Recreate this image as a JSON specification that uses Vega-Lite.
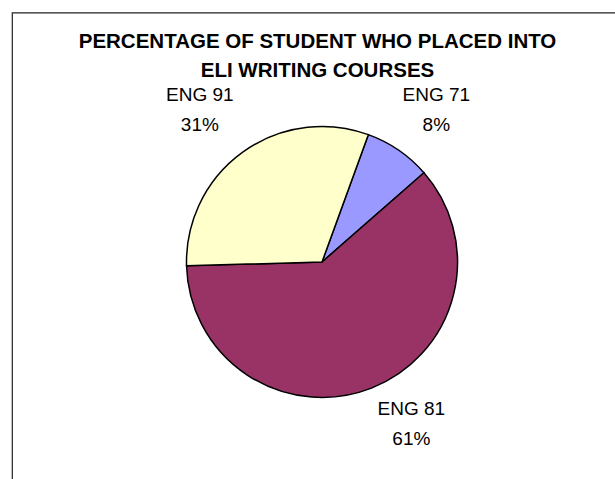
{
  "$schema": "https://vega.github.io/schema/vega-lite/v6.json",
  "width": 620,
  "height": 499,
  "autosize": {"type": "none"},
  "padding": {"left": 12, "top": 12.5, "right": 0, "bottom": 0},
  "background": "white",
  "view": {"stroke": "#222222", "strokeWidth": 1.2, "fill": "white"},
  "config": {
    "text": {"font": "Liberation Sans"}
  },
  "title": {
    "text": ["PERCENTAGE OF STUDENT WHO PLACED INTO", "ELI WRITING COURSES"],
    "font": "Liberation Sans",
    "fontSize": 20.5,
    "fontWeight": "bold",
    "color": "#000000",
    "lineHeight": 29,
    "anchor": "middle",
    "frame": "group",
    "baseline": "alphabetic",
    "offset": -85,
    "dx": -4.5
  },
  "data": {
    "values": [
      {"course": "ENG 71", "share": 0.08},
      {"course": "ENG 81", "share": 0.61},
      {"course": "ENG 91", "share": 0.31}
    ]
  },
  "layer": [
    {
      "mark": {"type": "arc", "outerRadius": 135.5, "stroke": "#000000", "strokeWidth": 1.5},
      "encoding": {
        "theta": {"field": "share", "type": "quantitative", "stack": true,
                  "scale": {"type": "linear", "domain": [0, 1], "range": [0.349, 6.632]}},
        "color": {"field": "course", "type": "nominal", "legend": null,
                  "scale": {"domain": ["ENG 71", "ENG 81", "ENG 91"], "range": ["#9999FF", "#993366", "#FFFFCC"]}},
        "order": {"field": "course", "type": "nominal"}
      }
    },
    {
      "mark": {"type": "text", "radius": 190, "fontSize": 19, "color": "#000000", "align": "center", "baseline": "middle",
               "dx": {"expr": "datum.course === 'ENG 81' ? 20 : datum.course === 'ENG 91' ? -11 : 7"},
               "dy": {"expr": "datum.course === 'ENG 81' ? -30 : datum.course === 'ENG 91' ? -13 : -10"}},
      "encoding": {
        "theta": {"field": "share", "type": "quantitative", "stack": true},
        "text": {"field": "course", "type": "nominal"},
        "detail": {"field": "course", "type": "nominal"},
        "order": {"field": "course", "type": "nominal"}
      }
    },
    {
      "mark": {"type": "text", "radius": 190, "fontSize": 19, "color": "#000000", "align": "center", "baseline": "middle",
               "dx": {"expr": "datum.course === 'ENG 81' ? 20 : datum.course === 'ENG 91' ? -11 : 7"},
               "dy": {"expr": "datum.course === 'ENG 81' ? 0 : datum.course === 'ENG 91' ? 17 : 20"}},
      "encoding": {
        "theta": {"field": "share", "type": "quantitative", "stack": true},
        "text": {"field": "share", "type": "quantitative", "format": ".0%"},
        "detail": {"field": "course", "type": "nominal"},
        "order": {"field": "course", "type": "nominal"}
      }
    }
  ]
}
